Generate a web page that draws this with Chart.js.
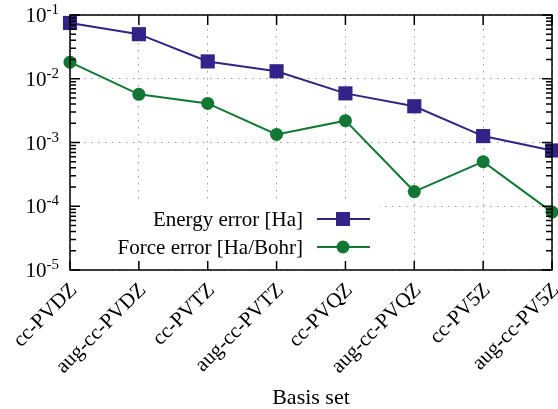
<!DOCTYPE html>
<html>
<head>
<meta charset="utf-8">
<script src="https://cdn.jsdelivr.net/npm/chart.js@4/dist/chart.umd.min.js"></script>
<style>
  html, body { margin: 0; padding: 0; background: #fff; }
</style>
</head>
<body>
<canvas id="errChart" width="558" height="409"></canvas>
<script>
const basisSets = ["cc-PVDZ", "aug-cc-PVDZ", "cc-PVTZ", "aug-cc-PVTZ", "cc-PVQZ", "aug-cc-PVQZ", "cc-PV5Z", "aug-cc-PV5Z"];
const energyError = [0.075, 0.050, 0.0187, 0.0131, 0.0059, 0.0037, 0.00126, 0.00075];
const forceError = [0.0182, 0.0057, 0.0041, 0.00134, 0.0022, 0.00017, 0.00050, 0.000081];
const yExponents = [-5, -4, -3, -2, -1];
const seriesNames = ["Energy error [Ha]", "Force error [Ha/Bohr]"];
const xTitle = "Basis set";

const FONT = "'Liberation Serif', 'Times New Roman', serif";
const BLUE = "#332288";
const GREEN = "#117733";

// white box behind the legend, hides the grid there
const legendBox = {
    id: "legendBox",
    beforeDatasetsDraw(chart) {
        const ctx = chart.ctx;
        const a = chart.chartArea;
        ctx.save();
        ctx.fillStyle = "#fff";
        ctx.fillRect(a.left + 1, 203, 378 - a.left, a.bottom - 203);
        ctx.restore();
    },
    afterDraw(chart) {
        const ctx = chart.ctx;
        const rows = [
            { text: seriesNames[0], y: 219, color: BLUE, style: "rect" },
            { text: seriesNames[1], y: 247, color: GREEN, style: "circle" }
        ];
        ctx.save();
        ctx.font = "21px " + FONT;
        ctx.textAlign = "right";
        ctx.textBaseline = "middle";
        rows.forEach(r => {
            ctx.fillStyle = "#000";
            ctx.fillText(r.text, 303, r.y + 1);
            ctx.strokeStyle = r.color;
            ctx.lineWidth = 2;
            ctx.beginPath();
            ctx.moveTo(317, r.y);
            ctx.lineTo(370, r.y);
            ctx.stroke();
            ctx.fillStyle = r.color;
            if (r.style === "rect") {
                ctx.fillRect(336, r.y - 7, 14, 14);
            } else {
                ctx.beginPath();
                ctx.arc(343, r.y, 6.5, 0, Math.PI * 2);
                ctx.fill();
            }
        });
        ctx.restore();
    }
};

// gnuplot-like frame with inward ticks and 10^n labels
const frame = {
    id: "frame",
    afterDraw(chart) {
        const ctx = chart.ctx;
        const a = chart.chartArea;
        const y = chart.scales.y;
        const x = chart.scales.x;
        ctx.save();
        ctx.strokeStyle = "#000";
        ctx.lineWidth = 1.5;
        ctx.strokeRect(a.left, a.top, a.right - a.left, a.bottom - a.top);
        ctx.beginPath();
        yExponents.forEach((e, i) => {
            const py = y.getPixelForValue(Math.pow(10, e));
            ctx.moveTo(a.left, py); ctx.lineTo(a.left + 10, py);
            ctx.moveTo(a.right, py); ctx.lineTo(a.right - 10, py);
            if (i < yExponents.length - 1) {
                for (let m = 2; m <= 9; m++) {
                    const my = y.getPixelForValue(m * Math.pow(10, e));
                    ctx.moveTo(a.left, my); ctx.lineTo(a.left + 6, my);
                    ctx.moveTo(a.right, my); ctx.lineTo(a.right - 6, my);
                }
            }
        });
        basisSets.forEach((b, i) => {
            const px = x.getPixelForValue(i);
            ctx.moveTo(px, a.bottom); ctx.lineTo(px, a.bottom - 9);
            ctx.moveTo(px, a.top); ctx.lineTo(px, a.top + 10);
        });
        ctx.stroke();

        ctx.fillStyle = "#000";
        ctx.textBaseline = "alphabetic";
        yExponents.forEach(e => {
            const py = y.getPixelForValue(Math.pow(10, e));
            const sup = String(e);
            ctx.font = "15px " + FONT;
            const sw = ctx.measureText(sup).width;
            ctx.textAlign = "right";
            ctx.fillText(sup, 59, py - 1);
            ctx.font = "21px " + FONT;
            ctx.fillText("10", 59 - sw, py + 7);
        });
        ctx.restore();
    }
};

const gridStyle = {
    color: "#9a9a9a",
    lineWidth: 1,
    tickLength: 0,
    drawTicks: false
};

new Chart(document.getElementById("errChart").getContext("2d"), {
    type: "line",
    data: {
        labels: basisSets,
        datasets: [{
            label: seriesNames[0],
            data: energyError,
            borderColor: BLUE,
            backgroundColor: BLUE,
            borderWidth: 2,
            pointStyle: "rect",
            pointRadius: 10,
            pointBorderWidth: 0,
            pointHoverRadius: 10,
            clip: false
        }, {
            label: seriesNames[1],
            data: forceError,
            borderColor: GREEN,
            backgroundColor: GREEN,
            borderWidth: 2,
            pointStyle: "circle",
            pointRadius: 6.5,
            pointBorderWidth: 0,
            pointHoverRadius: 6.5,
            clip: false
        }]
    },
    options: {
        responsive: false,
        animation: false,
        layout: { autoPadding: false, padding: { top: 15, right: 6, left: 0, bottom: 0 } },
        plugins: {
            legend: { display: false },
            tooltip: { enabled: false }
        },
        scales: {
            x: {
                type: "category",
                offset: false,
                grid: Object.assign({ offset: false }, gridStyle),
                border: { display: false, dash: [1.5, 5.5] },
                ticks: {
                    color: "#000",
                    font: { family: FONT, size: 21 },
                    maxRotation: 45,
                    minRotation: 45,
                    autoSkip: false,
                    padding: 8,
                    labelOffset: 4
                },
                title: {
                    display: true,
                    text: xTitle,
                    color: "#000",
                    font: { family: FONT, size: 22 },
                    padding: { top: 0, bottom: -2 }
                },
                afterFit(scale) {
                    scale.height = 139;
                    scale.paddingLeft = 0;
                    scale.paddingRight = 0;
                }
            },
            y: {
                type: "logarithmic",
                min: 1e-5,
                max: 1e-1,
                grid: gridStyle,
                border: { display: false, dash: [1.5, 5.5] },
                ticks: { display: false },
                afterBuildTicks(scale) {
                    scale.ticks = yExponents.map(e => ({ value: Math.pow(10, e) }));
                },
                afterFit(scale) {
                    scale.width = 70;
                    scale.paddingTop = 0;
                    scale.paddingBottom = 0;
                }
            }
        }
    },
    plugins: [legendBox, frame]
});
</script>
</body>
</html>
